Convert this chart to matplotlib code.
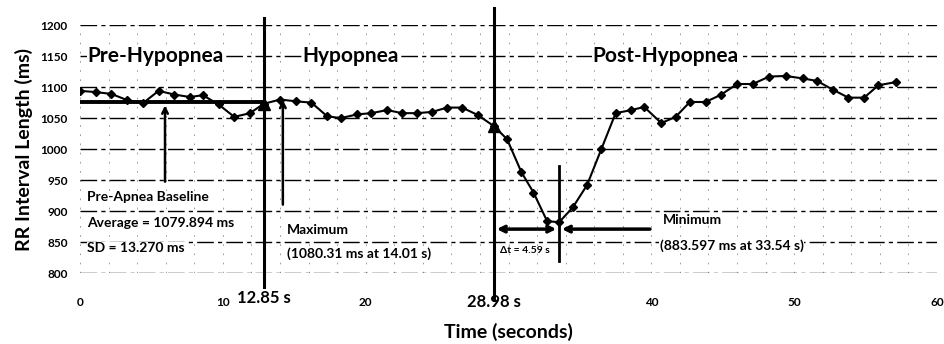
import numpy as np
import matplotlib
matplotlib.use("Agg")
import matplotlib.pyplot as plt
from matplotlib import transforms

plt.rcParams['font.family'] = ['Lato', 'DejaVu Sans']

# RR series (time in s, interval in ms)
rr_time = [0, 1.1, 2.2, 3.3, 4.4, 5.5, 6.6, 7.7, 8.6, 9.7, 10.8, 11.9, 12.85,
           14.01, 15.15, 16.2, 17.3, 18.25, 19.4, 20.4, 21.5, 22.55, 23.6, 24.65,
           25.7, 26.75, 27.85, 28.98, 29.9, 30.9, 31.75, 32.7, 33.54, 34.5, 35.5,
           36.5, 37.5, 38.6, 39.5, 40.7, 41.7, 42.7, 43.8, 44.9, 46.0, 47.1, 48.25,
           49.4, 50.6, 51.6, 52.7, 53.8, 54.9, 55.9, 57.1]
rr_ms = [1094, 1092, 1089, 1079, 1074, 1094, 1088, 1084, 1087, 1072, 1052, 1058, 1073,
         1080, 1077, 1075, 1053, 1050, 1056, 1058, 1063, 1058, 1058, 1060,
         1067, 1067, 1055, 1037, 1016, 963, 930, 884, 882, 906, 942,
         1000, 1058, 1063, 1068, 1042, 1052, 1076, 1076, 1088, 1105, 1105, 1117,
         1118, 1114, 1110, 1096, 1083, 1083, 1103, 1108]

event_time = [12.85, 28.98]
event_ms = [1073, 1037]
event_labels = ['12.85 s', '28.98 s']

baseline_ms = 1076
max_time, max_ms = 14.01, 1080.31
min_time, min_ms = 33.54, 883.597

phase_labels = ['Pre-Hypopnea', 'Hypopnea', 'Post-Hypopnea']
phase_x = [0.5, 15.6, 35.9]

x_ticks = [0, 10, 20, 40, 50, 60]
y_ticks = np.arange(800, 1201, 50)

fig = plt.figure(figsize=(9.45, 3.44), dpi=100)
ax = fig.add_axes([0.0847, 0.206, 0.9068, 0.721])

ax.set_xlim(0, 60)
ax.set_ylim(800, 1200)
ax.set_xticks(x_ticks)
ax.set_xticks(np.arange(0, 61, 2), minor=True)
ax.set_yticks(y_ticks)
ax.tick_params(axis='both', which='both', length=0, labelsize=8.5)
ax.tick_params(axis='x', pad=17)
ax.tick_params(axis='y', pad=9)
for t in ax.get_xticklabels() + ax.get_yticklabels():
    t.set_fontweight('bold')
for s in ax.spines.values():
    s.set_visible(False)

ax.grid(axis='y', color='black', lw=1.0, ls=(0, (12, 3, 3, 3)))
ax.grid(axis='x', which='both', color='0.55', lw=0.6, ls=(0, (2, 9)))
ax.set_axisbelow(True)

# baseline
ax.plot([0, 12.85], [baseline_ms, baseline_ms], color='black', lw=2.8, zorder=3)

# series
ax.plot(rr_time, rr_ms, color='black', lw=1.5, marker='D', markersize=4.5, zorder=4)
ax.plot(event_time, event_ms, ls='none', marker='^', color='black', markersize=9, zorder=5)

# event lines
ax.plot([12.85, 12.85], [1211, 777], color='black', lw=2.2, clip_on=False, zorder=5)
ax.plot([28.98, 28.98], [1227, 756], color='black', lw=2.2, clip_on=False, zorder=5)
ax.plot([min_time, min_time], [972, 820], color='black', lw=2.0, zorder=5)

trans = transforms.blended_transform_factory(ax.transData, ax.transAxes)
ax.text(event_time[0], -0.1, event_labels[0], transform=trans, ha='center', va='center',
        fontsize=12, fontweight='bold')
ax.text(event_time[1], -0.115, event_labels[1], transform=trans, ha='center', va='center',
        fontsize=12, fontweight='bold')

# phase titles
for lab, px in zip(phase_labels, phase_x):
    ax.text(px, 1150, lab, ha='left', va='center', fontsize=15, fontweight='bold',
            bbox=dict(facecolor='white', edgecolor='none', pad=0.5), zorder=6)

box = dict(facecolor='white', edgecolor='none', pad=0.3)
note = dict(fontsize=10, fontweight='bold', va='center', bbox=box, zorder=6)

# baseline annotation
ax.annotate('', xy=(5.95, baseline_ms - 1), xytext=(5.95, 943),
            arrowprops=dict(arrowstyle='->', lw=1.8, color='black'), zorder=6)
ax.text(0.5, 922, 'Pre-Apnea Baseline', **note)
ax.text(0.5, 881, 'Average = 1079.894 ms', **note)
ax.text(0.5, 840, 'SD = 13.270 ms', **note)

# maximum annotation
ax.annotate('', xy=(14.2, 1084), xytext=(14.2, 906),
            arrowprops=dict(arrowstyle='->', lw=1.8, color='black'), zorder=6)
ax.text(14.5, 869, 'Maximum', **note)
ax.text(14.5, 832, '(%.2f ms at %.2f s)' % (max_ms, max_time), **note)

# minimum annotation
ax.annotate('', xy=(28.98, 871), xytext=(min_time, 871),
            arrowprops=dict(arrowstyle='<->', lw=2.5, color='black'), zorder=6)
ax.annotate('', xy=(min_time, 871), xytext=(40.1, 871),
            arrowprops=dict(arrowstyle='->', lw=2.5, color='black'), zorder=6)
ax.text(29.4, 837, '\u0394t = 4.59 s', fontsize=7.5, fontweight='bold',
        va='center', zorder=6)
ax.text(40.8, 886, 'Minimum', **note)
ax.text(40.6, 845, '(%.3f ms at %.2f s)' % (min_ms, min_time), **note)

ax.set_xlabel('Time (seconds)', fontsize=14, fontweight='bold', labelpad=11)
ax.set_ylabel('RR Interval Length (ms)', fontsize=14, fontweight='bold', labelpad=5)

fig.savefig('out.png', dpi=100)
